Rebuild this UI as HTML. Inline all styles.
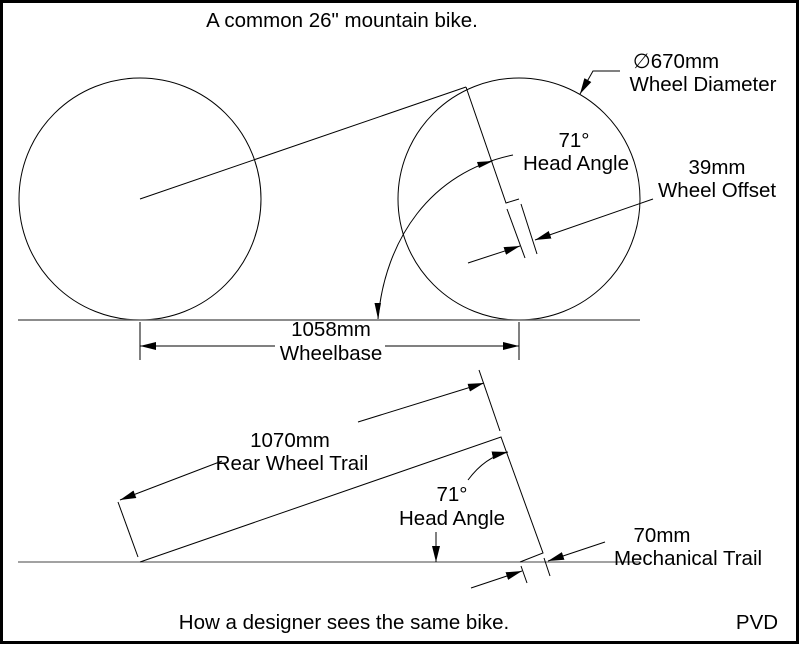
<!DOCTYPE html>
<html><head><style>
body{margin:0;background:#fff}
svg{display:block}
text{font-family:"Liberation Sans",sans-serif;font-size:20.5px;fill:#000}
</style></head><body>
<svg width="800" height="645" viewBox="0 0 800 645" xmlns="http://www.w3.org/2000/svg">
<defs>
<marker id="a" viewBox="0 0 10 10" refX="10" refY="5" markerWidth="16" markerHeight="16" markerUnits="userSpaceOnUse" orient="auto"><path d="M0,2.5 L10,5 L0,7.5 z" fill="#000"/></marker>
</defs>
<rect x="1.5" y="1.5" width="796" height="641" fill="none" stroke="#000" stroke-width="3"/>
<g fill="none" stroke="#000" stroke-width="1">
<circle cx="140" cy="199" r="121"/>
<circle cx="519" cy="199" r="121"/>
<line x1="18" y1="320" x2="640" y2="320" stroke="#666" stroke-width="1.5"/>
<line x1="140" y1="199" x2="466" y2="87"/>
<polyline points="466,87 506,203 519,199"/>
<line x1="507" y1="209" x2="525" y2="258"/>
<line x1="521" y1="204" x2="537" y2="254"/>
<line x1="468" y1="263" x2="520" y2="246" marker-end="url(#a)"/>
<line x1="653" y1="199" x2="535" y2="240" marker-end="url(#a)"/>
<path d="M378,319 C385,240 430,172 513,155"/>
<polyline points="620,71 593,71 580,94" marker-end="url(#a)"/>
<line x1="140" y1="322" x2="140" y2="360"/>
<line x1="519" y1="322" x2="519" y2="360"/>
<line x1="275" y1="346" x2="140" y2="346" marker-end="url(#a)"/>
<line x1="385" y1="346" x2="519" y2="346" marker-end="url(#a)"/>
<line x1="18" y1="562" x2="640" y2="562" stroke="#444"/>
<polyline points="140,562 501,437 543,553 520,562"/>
<line x1="118" y1="502" x2="138" y2="557"/>
<line x1="479" y1="370" x2="500" y2="431"/>
<line x1="222" y1="461" x2="120" y2="500" marker-end="url(#a)"/>
<line x1="358" y1="422" x2="484" y2="383" marker-end="url(#a)"/>
<path d="M468,480 Q485,457 508,452" marker-end="url(#a)"/>
<line x1="436" y1="532" x2="436" y2="562" marker-end="url(#a)"/>
<line x1="521" y1="566" x2="527" y2="583"/>
<line x1="544" y1="558" x2="550" y2="576"/>
<line x1="471" y1="588" x2="522" y2="571" marker-end="url(#a)"/>
<line x1="605" y1="542" x2="548" y2="561" marker-end="url(#a)"/>
</g>
<path d="M378,319 L374.5,303 L381,303 z" fill="#000"/>
<path d="M493,161 L477,162 L479,168 z" fill="#000"/>
<text x="342" y="27" text-anchor="middle">A common 26" mountain bike.</text>
<text x="676" y="68" text-anchor="middle">∅670mm</text>
<text x="703" y="91" text-anchor="middle">Wheel Diameter</text>
<text x="574" y="147" text-anchor="middle">71°</text>
<text x="576" y="170" text-anchor="middle">Head Angle</text>
<text x="717" y="174" text-anchor="middle">39mm</text>
<text x="717" y="197" text-anchor="middle">Wheel Offset</text>
<text x="331" y="336" text-anchor="middle">1058mm</text>
<text x="331" y="360" text-anchor="middle">Wheelbase</text>
<text x="290" y="447" text-anchor="middle">1070mm</text>
<text x="292" y="470" text-anchor="middle">Rear Wheel Trail</text>
<text x="452" y="501" text-anchor="middle">71°</text>
<text x="452" y="525" text-anchor="middle">Head Angle</text>
<text x="662" y="542" text-anchor="middle">70mm</text>
<text x="688" y="565" text-anchor="middle">Mechanical Trail</text>
<text x="344" y="629" text-anchor="middle">How a designer sees the same bike.</text>
<text x="757" y="629" text-anchor="middle">PVD</text>
</svg>
</body></html>
